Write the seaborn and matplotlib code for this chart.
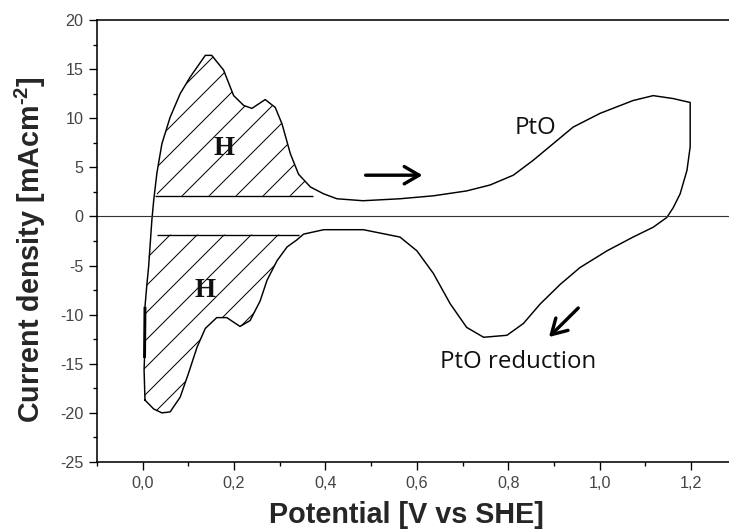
import numpy as np
import pandas as pd
import matplotlib
matplotlib.use("Agg")
import matplotlib.pyplot as plt
import seaborn as sns

# ---------------- data ----------------
# anodic (forward) sweep: potential [V vs SHE], current density [mA cm-2]
E_fwd = [0.005, 0.003, 0.004, 0.005, 0.009, 0.013, 0.020, 0.024, 0.031, 0.042,
         0.060, 0.082, 0.104, 0.137, 0.151, 0.177, 0.199, 0.221, 0.239, 0.268,
         0.290, 0.305, 0.323, 0.341, 0.367, 0.396, 0.425, 0.482, 0.563, 0.636,
         0.709, 0.760, 0.811, 0.854, 0.898, 0.942, 1.001, 1.073, 1.117, 1.161,
         1.198]
j_fwd = [-18.7, -15.6, -14.4, -9.2, -7.0, -5.1, -0.4, 1.6, 4.4, 7.4,
         10.1, 12.5, 14.2, 16.4, 16.4, 14.9, 12.3, 11.3, 11.0, 11.9,
         11.1, 9.4, 6.4, 4.3, 3.0, 2.3, 1.8, 1.6, 1.8, 2.1,
         2.6, 3.2, 4.2, 5.7, 7.4, 9.1, 10.5, 11.8, 12.3, 12.0,
         11.6]
# cathodic (reverse) sweep
E_rev = [1.198, 1.191, 1.176, 1.161, 1.147, 1.117, 1.073, 1.016, 0.957, 0.914,
         0.870, 0.833, 0.797, 0.746, 0.709, 0.673, 0.636, 0.600, 0.563, 0.483,
         0.396, 0.352, 0.337, 0.316, 0.294, 0.272, 0.257, 0.235, 0.213, 0.184,
         0.162, 0.137, 0.119, 0.100, 0.082, 0.060, 0.042, 0.024, 0.005]
j_rev = [7.1, 4.7, 2.3, 0.9, -0.1, -1.1, -2.1, -3.5, -5.2, -6.9,
         -8.9, -10.9, -12.1, -12.3, -11.3, -8.9, -5.8, -3.5, -2.1, -1.35,
         -1.35, -1.8, -2.4, -3.1, -4.5, -6.5, -8.6, -10.6, -11.2, -10.3,
         -10.3, -11.4, -13.3, -16.0, -18.4, -19.9, -20.0, -19.6, -18.7]

# hydrogen region baselines (level, start, end)
h_up_level, h_up_x0, h_up_x1 = 2.1, 0.027, 0.372
h_dn_level, h_dn_x0, h_dn_x1 = -1.85, 0.031, 0.341

x_ticks = [0.0, 0.2, 0.4, 0.6, 0.8, 1.0, 1.2]
x_tick_labels = ["0,0", "0,2", "0,4", "0,6", "0,8", "1,0", "1,2"]
y_ticks = [-25, -20, -15, -10, -5, 0, 5, 10, 15, 20]
y_tick_labels = ["-25", "-20", "-15", "-10", "-5", "0", "5", "10", "15", "20"]

# ---------------- style ----------------
sns.set_theme(style="ticks")
plt.rcParams["font.family"] = ["Liberation Sans", "DejaVu Sans"]
plt.rcParams["axes.unicode_minus"] = False
plt.rcParams["hatch.linewidth"] = 0.45
plt.rcParams["mathtext.fontset"] = "custom"
plt.rcParams["mathtext.rm"] = "Liberation Sans:bold"
plt.rcParams["mathtext.bf"] = "Liberation Sans:bold"
plt.rcParams["mathtext.default"] = "bf"

DPI = 162
fig = plt.figure(figsize=(729 / DPI, 529 / DPI), dpi=DPI)
ax = fig.add_axes([97 / 729, 1 - 462 / 529, 685.5 / 729, 442 / 529])

df = pd.DataFrame({"E": E_fwd + E_rev, "j": j_fwd + j_rev})
sns.lineplot(data=df, x="E", y="j", sort=False, estimator=None,
             color="black", lw=0.65, ax=ax)

# thick piece on the left edge
Ef = np.array(E_fwd); jf = np.array(j_fwd)
m = (jf >= -14.5) & (jf <= -9.0)
ax.plot(Ef[m], jf[m], color="black", lw=1.3, solid_capstyle="butt")

# zero line
ax.axhline(0, color="#333333", lw=0.5)

# hatched H regions
Er = np.array(E_rev); jr = np.array(j_rev)
mu = (Ef >= h_up_x0) & (Ef <= h_up_x1)
ax.fill_between(Ef[mu], jf[mu], h_up_level, where=jf[mu] >= h_up_level,
                interpolate=True, facecolor="none", edgecolor="black",
                hatch="//", lw=0)
ml = (Er <= h_dn_x1 + 0.005)
left = (jf <= h_dn_level) & (Ef < 0.03)
poly_x = list(Er[ml]) + list(Ef[left][1:]) + [Ef[left][-1], h_dn_x1]
poly_y = list(jr[ml]) + list(jf[left][1:]) + [h_dn_level, h_dn_level]
ax.fill(poly_x, poly_y, facecolor="none", edgecolor="black", hatch="//", lw=0)
ax.hlines(h_up_level, h_up_x0, h_up_x1, color="black", lw=0.6)
ax.hlines(h_dn_level, h_dn_x0, h_dn_x1, color="black", lw=0.6)

# annotations
ax.text(0.177, 6.9, "H", family="Liberation Serif", weight="bold",
        fontsize=12, ha="center", va="center", color="#111111")
ax.text(0.137, -7.5, "H", family="Liberation Serif", weight="bold",
        fontsize=12, ha="center", va="center", color="#111111")
ax.text(0.859, 9.0, "PtO", family="Open Sans", fontsize=10.7,
        ha="center", va="center", color="#111111")
ax.text(0.822, -14.8, "PtO reduction", family="Open Sans", fontsize=10.7,
        ha="center", va="center", color="#111111")
ax.annotate("", xy=(0.622, 4.2), xytext=(0.478, 4.2),
            arrowprops=dict(arrowstyle="->,head_length=0.55,head_width=0.32",
                            color="black", lw=1.5))
ax.annotate("", xy=(0.882, -12.6), xytext=(0.960, -9.0),
            arrowprops=dict(arrowstyle="->,head_length=0.55,head_width=0.32",
                            color="black", lw=1.5))

# axes
ax.set_xlim(-0.1, 1.4)
ax.set_ylim(-25, 20)
ax.set_xticks(x_ticks)
ax.set_xticklabels(x_tick_labels)
ax.set_yticks(y_ticks)
ax.set_yticklabels(y_tick_labels)
ax.set_xticks(np.arange(-0.1, 1.41, 0.1), minor=True)
ax.set_yticks(np.arange(-25, 20.1, 2.5), minor=True)
ax.tick_params(which="major", direction="out", length=3.6, width=0.6,
               labelsize=7.2, labelcolor="#444444", color="black", pad=2.5)
ax.tick_params(which="minor", direction="out", length=1.9, width=0.6,
               color="black")
for s in ax.spines.values():
    s.set_linewidth(0.7)
    s.set_color("black")
ax.set_xlabel("Potential [V vs SHE]", fontsize=12.8, weight="bold")
ax.set_ylabel(r"Current density [mAcm$^{\text{-}2}$]", fontsize=12.8,
              weight="bold")
ax.xaxis.set_label_coords(0.451, -0.088)
ax.yaxis.set_label_coords(-0.071, 0.48)

fig.savefig("out.png", dpi=DPI)
